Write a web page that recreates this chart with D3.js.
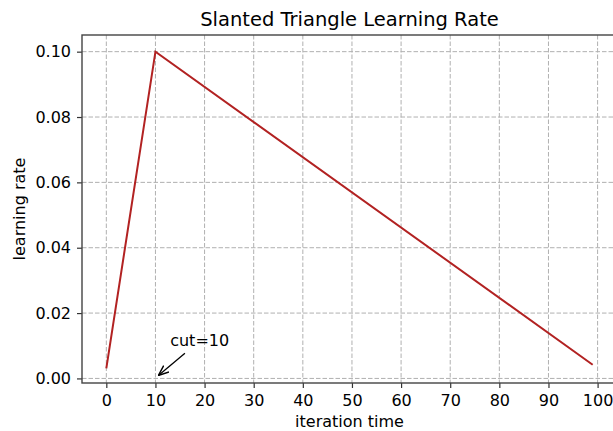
<!DOCTYPE html>
<html>
<head>
<meta charset="utf-8">
<script src="https://cdn.jsdelivr.net/npm/d3@7"></script>
<style>
  body { margin: 0; background: #fff; }
  text { font-family: "DejaVu Sans", sans-serif; fill: #000; }
</style>
</head>
<body>
<div id="chart"></div>
<script>
// data
const iterations = [0, 10, 99];
const learningRates = [0.0031, 0.1, 0.0042];
const xTicks = [0, 10, 20, 30, 40, 50, 60, 70, 80, 90, 100];
const yTicks = [0.00, 0.02, 0.04, 0.06, 0.08, 0.10];
const cutLabel = "cut=10";
const cutText = [13, 0.0099];
const cutArrowFrom = [16.0, 0.0077];
const cutArrowTo = [10.6, 0.0009];

const w = 613;
const h = 431;
const padLeft = 82, padTop = 35, padBottom = 383, padRight = 617;

const xScale = d3.scaleLinear().domain([-4.95, 103.95]).range([padLeft, padRight]);
const yScale = d3.scaleLinear().domain([-0.0014, 0.1051]).range([padBottom, padTop]);

const svg = d3.select('#chart')
              .append('svg')
              .attr('width', w)
              .attr('height', h);

// grid
const grid = svg.append('g').attr('stroke', '#b0b0b0').attr('stroke-width', 1)
                .attr('stroke-dasharray', '4.5,2');
grid.selectAll('.vg').data(xTicks).enter().append('line')
    .attr('x1', d => xScale(d)).attr('x2', d => xScale(d))
    .attr('y1', padTop).attr('y2', padBottom);
grid.selectAll('.hg').data(yTicks).enter().append('line')
    .attr('x1', padLeft).attr('x2', padRight)
    .attr('y1', d => yScale(d)).attr('y2', d => yScale(d));

// line
const line = d3.line().x((d, i) => xScale(iterations[i])).y(d => yScale(d));
svg.append('path')
   .datum(learningRates)
   .attr('d', line)
   .attr('fill', 'none')
   .attr('stroke', '#b22222')
   .attr('stroke-width', 2);

// axes
const xAxis = d3.axisBottom(xScale).tickValues(xTicks).tickSize(5).tickPadding(5)
                .tickFormat(d3.format('d'));
const yAxis = d3.axisLeft(yScale).tickValues(yTicks).tickSize(5).tickPadding(6)
                .tickFormat(d3.format('.2f'));
const gx = svg.append('g')
   .attr('transform', 'translate(0,' + padBottom + ')')
   .call(xAxis);
const gy = svg.append('g')
   .attr('transform', 'translate(' + padLeft + ',0)')
   .call(yAxis);
[gx, gy].forEach(g => {
  g.select('.domain').remove();
  g.selectAll('.tick line').attr('stroke', '#333').attr('stroke-width', 1.2);
  g.selectAll('.tick text').style('font-size', '16px').attr('fill', '#000');
});
gx.selectAll('.tick text').attr('dy', '0.8em');

// frame
svg.append('rect')
   .attr('x', padLeft).attr('y', padTop)
   .attr('width', padRight - padLeft).attr('height', padBottom - padTop)
   .attr('fill', 'none').attr('stroke', '#444').attr('stroke-width', 1.4);

// annotation
svg.append('defs').append('marker')
   .attr('id', 'head').attr('viewBox', '0 0 10 10')
   .attr('refX', 10).attr('refY', 5)
   .attr('markerWidth', 8).attr('markerHeight', 8)
   .attr('orient', 'auto-start-reverse')
   .append('path').attr('d', 'M0,1 L10,5 L0,9').attr('fill', 'none')
   .attr('stroke', '#000').attr('stroke-width', 1.4);
svg.append('line')
   .attr('x1', xScale(cutArrowFrom[0])).attr('y1', yScale(cutArrowFrom[1]))
   .attr('x2', xScale(cutArrowTo[0])).attr('y2', yScale(cutArrowTo[1]))
   .attr('stroke', '#000').attr('stroke-width', 1.3)
   .attr('marker-end', 'url(#head)');
svg.append('text')
   .attr('x', xScale(cutText[0])).attr('y', yScale(cutText[1]))
   .style('font-size', '16px')
   .text(cutLabel);

// titles
svg.append('text')
   .attr('x', (padLeft + padRight) / 2).attr('y', 26)
   .attr('text-anchor', 'middle')
   .style('font-size', '19.5px')
   .text('Slanted Triangle Learning Rate');
svg.append('text')
   .attr('x', (padLeft + padRight) / 2).attr('y', 427)
   .attr('text-anchor', 'middle')
   .style('font-size', '16px')
   .text('iteration time');
svg.append('text')
   .attr('transform', 'translate(25,' + ((padTop + padBottom) / 2) + ') rotate(-90)')
   .attr('text-anchor', 'middle')
   .style('font-size', '16px')
   .text('learning rate');
</script>
</body>
</html>
